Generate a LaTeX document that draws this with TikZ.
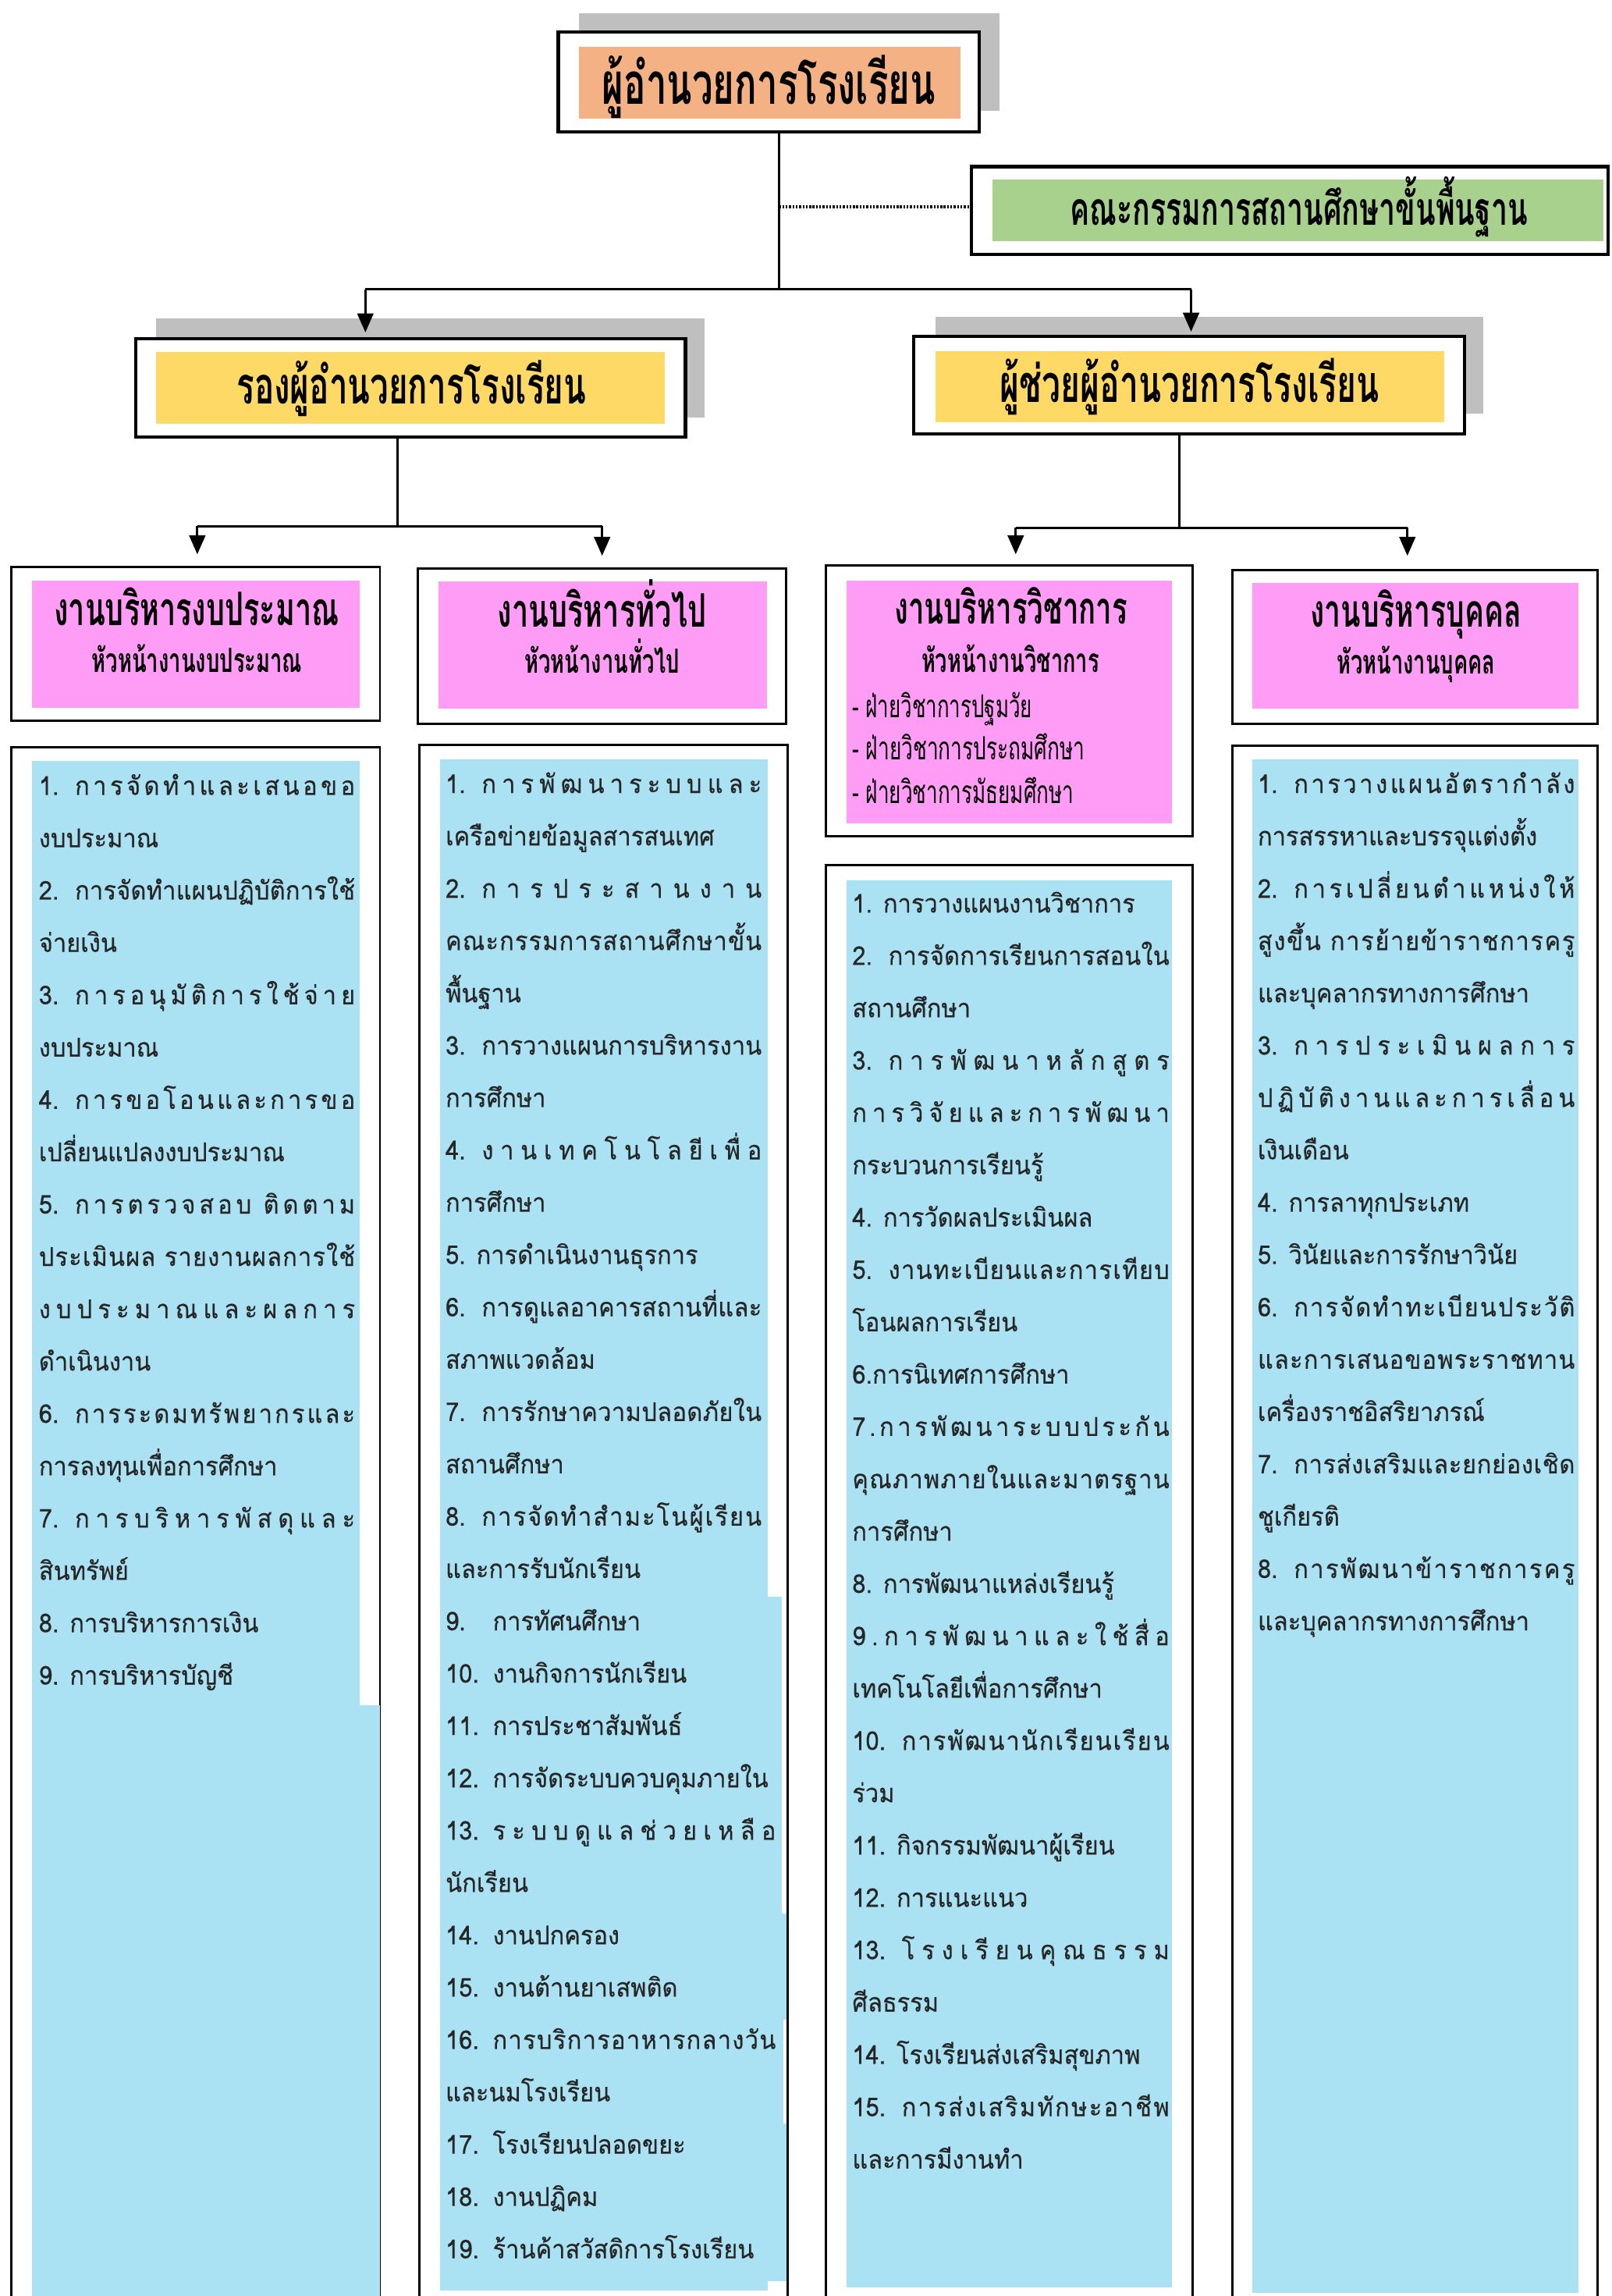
\documentclass[tikz,border=0pt]{standalone}
\usepackage{fontspec}
\usepackage{graphicx}
\usetikzlibrary{arrows.meta}
\newfontfamily\thai[Script=Thai,FakeStretch=0.93,FakeBold=0.35]{Loma}
\newfontfamily\thaic[Script=Thai,FakeStretch=0.64]{Loma}
\definecolor{orangef}{HTML}{F4B183}
\definecolor{yellowf}{HTML}{FFD966}
\definecolor{greenf}{HTML}{A9D18E}
\definecolor{pinkf}{HTML}{FF9CF6}
\definecolor{bluef}{HTML}{AAE1F3}
\definecolor{shadowg}{HTML}{BFBFBF}
\newcommand\hd[2]{\resizebox{#1pt}{!}{\thaic\bfseries #2}}
\newcommand\hr[2]{\resizebox{#1pt}{!}{\thaic #2}}
\newdimen\jw
\newcommand\J[1]{\setbox0=\hbox{#1}\setbox2=\hbox{\addfontfeature{LetterSpace=10}#1}%
  \pgfmathsetmacro\lsv{10*(\the\jw-\the\wd0)/(\the\wd2-\the\wd0)}%
  \edef\tmpls{\noexpand\addfontfeature{LetterSpace=\lsv}}\hbox{\tmpls #1}}
\newcommand\JN[2]{\setbox4=\hbox{#1\kern11pt}\dimen4=\jw \advance\dimen4 by -\wd4
  \hbox{\box4{\jw=\dimen4 \J{#2}}}}
\newcommand\N[1]{\makebox[32.3pt][l]{#1}}
\tikzset{
  obox/.style={draw, line width=2.2pt, fill=white, inner sep=0pt},
  pbox/.style={draw, line width=1.6pt, fill=white, inner sep=0pt},
  fbox/.style={inner sep=0pt},
  conn/.style={line width=1.6pt},
  arr/.style={line width=1.6pt, -{Triangle[length=13pt,width=11pt]}},
  ltxt/.style={anchor=base west, inner sep=0pt, font=\thai\fontsize{17.7}{20}\selectfont, text=black!85},
  htxt/.style={anchor=base, inner sep=0pt},
}
\begin{document}
\begin{tikzpicture}[x=1pt,y=-1pt]
\useasboundingbox (0,0) rectangle (1103,1570.7);
\clip (0,0) rectangle (1103,1570.7);
% shadows
\fill[shadowg] (396,9) rectangle (684,76);
\fill[shadowg] (107,218) rectangle (482,285.6);
\fill[shadowg] (640,217) rectangle (1015,283);
% outer boxes
\node[obox, minimum width=288pt, minimum height=68pt] (dir) at (526,56) {};
\node[obox, minimum width=436pt, minimum height=60pt] (board) at (882.5,144) {};
\node[obox, minimum width=376pt, minimum height=67.5pt] (dep) at (281,265.25) {};
\node[obox, minimum width=377pt, minimum height=67pt] (asst) at (813.5,263.5) {};
\node[pbox, minimum width=252pt, minimum height=105pt] (b1) at (134,440.5) {};
\node[pbox, minimum width=252pt, minimum height=106pt] (b2) at (412,442) {};
\node[pbox, minimum width=251pt, minimum height=185pt] (b3) at (690.5,479.5) {};
\node[pbox, minimum width=250pt, minimum height=105pt] (b4) at (968,442.5) {};
\node[pbox, minimum width=252pt, minimum height=1089pt] (l1) at (134,1055.5) {};
\node[pbox, minimum width=252pt, minimum height=1090.5pt] (l2) at (413,1054.75) {};
\node[pbox, minimum width=251pt, minimum height=1008pt] (l3) at (690.5,1096) {};
\node[pbox, minimum width=250pt, minimum height=1090pt] (l4) at (968,1055) {};
% colour fills
\node[fbox, fill=orangef, minimum width=261pt, minimum height=49pt] (dirf) at (526.5,56.5) {};
\node[fbox, fill=greenf, minimum width=418pt, minimum height=42pt] (boardf) at (888,144) {};
\node[fbox, fill=yellowf, minimum width=348pt, minimum height=49pt] (depf) at (281,265.5) {};
\node[fbox, fill=yellowf, minimum width=348pt, minimum height=49pt] (asstf) at (814,264.5) {};
\node[fbox, fill=pinkf, minimum width=224pt, minimum height=87pt] (b1f) at (134,440.5) {};
\node[fbox, fill=pinkf, minimum width=225pt, minimum height=87pt] (b2f) at (412.5,441.5) {};
\node[fbox, fill=pinkf, minimum width=223pt, minimum height=166pt] (b3f) at (690.5,480) {};
\node[fbox, fill=pinkf, minimum width=223pt, minimum height=86pt] (b4f) at (968.5,442) {};
% list fills
\fill[bluef] (22,520.6) rectangle (246,1580);
\fill[bluef] (245,1166.5) rectangle (260,1580);
\fill[bluef] (301,519.5) rectangle (525.5,1567);
\fill[bluef] (525,1092.4) rectangle (535,1309);
\fill[bluef] (525,1309) rectangle (538,1381.6);
\fill[bluef] (525,1381.6) rectangle (536,1452.6);
\fill[bluef] (525,1452.6) rectangle (538,1560.6);
\fill[bluef] (579,602) rectangle (802,1565);
\fill[bluef] (857,519.6) rectangle (1080,1568.5);
% headings
\node[htxt] (t-dir) at (526,71.2) {\hd{228}{ผู้อำนวยการโรงเรียน}};
\node[htxt] (t-board) at (888.8,154) {\hd{313}{คณะกรรมการสถานศึกษาขั้นพื้นฐาน}};
\node[htxt] (t-dep) at (281.5,276.5) {\hd{239}{รองผู้อำนวยการโรงเรียน}};
\node[htxt] (t-asst) at (814,275.2) {\hd{259.5}{ผู้ช่วยผู้อำนวยการโรงเรียน}};
\node[htxt] (t-b1) at (134.5,427.7) {\hd{195}{งานบริหารงบประมาณ}};
\node[htxt] (s-b1) at (134.8,460) {\hd{144}{หัวหน้างานงบประมาณ}};
\node[htxt] (t-b2) at (412,428.8) {\hd{143}{งานบริหารทั่วไป}};
\node[htxt] (s-b2) at (412,460.5) {\hd{106}{หัวหน้างานทั่วไป}};
\node[htxt] (t-b3) at (691.7,427) {\hd{159.5}{งานบริหารวิชาการ}};
\node[htxt] (s-b3) at (691.3,460) {\hd{121.5}{หัวหน้างานวิชาการ}};
\node[htxt, anchor=base west] (d1-b3) at (583,490.7) {\hr{123}{- ฝ่ายวิชาการปฐมวัย}};
\node[htxt, anchor=base west] (d2-b3) at (583,520) {\hr{159}{- ฝ่ายวิชาการประถมศึกษา}};
\node[htxt, anchor=base west] (d3-b3) at (583,549.7) {\hr{151.5}{- ฝ่ายวิชาการมัธยมศึกษา}};
\node[htxt] (t-b4) at (968.8,429) {\hd{144.6}{งานบริหารบุคคล}};
\node[htxt] (s-b4) at (968.8,461) {\hd{108.5}{หัวหน้างานบุคคล}};
% list texts
\jw=216.4pt
\foreach \t [count=\i] in {
 {\JN{1.}{การจัดทำและเสนอขอ}}, {งบประมาณ},
 {\JN{2.}{การจัดทำแผนปฏิบัติการใช้}}, {จ่ายเงิน},
 {\JN{3.}{การอนุมัติการใช้จ่าย}}, {งบประมาณ},
 {\JN{4.}{การขอโอนและการขอ}}, {เปลี่ยนแปลงงบประมาณ},
 {\JN{5.}{การตรวจสอบ ติดตาม}}, {\J{ประเมินผล รายงานผลการใช้}}, {\J{งบประมาณและผลการ}}, {ดำเนินงาน},
 {\JN{6.}{การระดมทรัพยากรและ}}, {การลงทุนเพื่อการศึกษา},
 {\JN{7.}{การบริหารพัสดุและ}}, {สินทรัพย์},
 {8. การบริหารการเงิน}, {9. การบริหารบัญชี}}
 {\node[ltxt] (x1-\i) at (26.4,{543.8+35.8*(\i-1)}) {\t};}
\jw=216.3pt
\foreach \t [count=\i] in {
 {\JN{1.}{การพัฒนาระบบและ}}, {เครือข่ายข้อมูลสารสนเทศ},
 {\JN{2.}{การประสานงาน}}, {\J{คณะกรรมการสถานศึกษาขั้น}}, {พื้นฐาน},
 {\JN{3.}{การวางแผนการบริหารงาน}}, {การศึกษา},
 {\JN{4.}{งานเทคโนโลยีเพื่อ}}, {การศึกษา},
 {5. การดำเนินงานธุรการ},
 {\JN{6.}{การดูแลอาคารสถานที่และ}}, {สภาพแวดล้อม},
 {\JN{7.}{การรักษาความปลอดภัยใน}}, {สถานศึกษา},
 {\JN{8.}{การจัดทำสำมะโนผู้เรียน}}, {และการรับนักเรียน},
 {\N{9.}การทัศนศึกษา}, {\N{10.}งานกิจการนักเรียน}, {\N{11.}การประชาสัมพันธ์},
 {\N{12.}การจัดระบบควบคุมภายใน},
 {\N{13.}\jw=193.7pt\J{ระบบดูแลช่วยเหลือ}}, {นักเรียน},
 {\N{14.}งานปกครอง}, {\N{15.}งานต้านยาเสพติด},
 {\N{16.}\jw=193.7pt\J{การบริการอาหารกลางวัน}}, {และนมโรงเรียน},
 {\N{17.}โรงเรียนปลอดขยะ}, {\N{18.}งานปฏิคม}, {\N{19.}ร้านค้าสวัสดิการโรงเรียน}}
 {\node[ltxt] (x2-\i) at (304.7,{542.5+35.8*(\i-1)}) {\t};}
\jw=217pt
\foreach \t [count=\i] in {
 {1. การวางแผนงานวิชาการ},
 {\JN{2.}{การจัดการเรียนการสอนใน}}, {สถานศึกษา},
 {\JN{3.}{การพัฒนาหลักสูตร}}, {\J{การวิจัยและการพัฒนา}}, {กระบวนการเรียนรู้},
 {4. การวัดผลประเมินผล},
 {\JN{5.}{งานทะเบียนและการเทียบ}}, {โอนผลการเรียน},
 {6.การนิเทศการศึกษา},
 {\J{7.การพัฒนาระบบประกัน}}, {\J{คุณภาพภายในและมาตรฐาน}}, {การศึกษา},
 {8. การพัฒนาแหล่งเรียนรู้},
 {\J{9.การพัฒนาและใช้สื่อ}}, {เทคโนโลยีเพื่อการศึกษา},
 {\JN{10.}{การพัฒนานักเรียนเรียน}}, {ร่วม},
 {11. กิจกรรมพัฒนาผู้เรียน}, {12. การแนะแนว},
 {\JN{13.}{โรงเรียนคุณธรรม}}, {ศีลธรรม},
 {14. โรงเรียนส่งเสริมสุขภาพ},
 {\JN{15.}{การส่งเสริมทักษะอาชีพ}}, {และการมีงานทำ}}
 {\node[ltxt] (x3-\i) at (583,{624.3+35.8*(\i-1)}) {\t};}
\jw=217pt
\foreach \t [count=\i] in {
 {\JN{1.}{การวางแผนอัตรากำลัง}}, {การสรรหาและบรรจุแต่งตั้ง},
 {\JN{2.}{การเปลี่ยนตำแหน่งให้}}, {\J{สูงขึ้น การย้ายข้าราชการครู}}, {และบุคลากรทางการศึกษา},
 {\JN{3.}{การประเมินผลการ}}, {\J{ปฏิบัติงานและการเลื่อน}}, {เงินเดือน},
 {4. การลาทุกประเภท}, {5. วินัยและการรักษาวินัย},
 {\JN{6.}{การจัดทำทะเบียนประวัติ}}, {\J{และการเสนอขอพระราชทาน}}, {เครื่องราชอิสริยาภรณ์},
 {\JN{7.}{การส่งเสริมและยกย่องเชิด}}, {ชูเกียรติ},
 {\JN{8.}{การพัฒนาข้าราชการครู}}, {และบุคลากรทางการศึกษา}}
 {\node[ltxt] (x4-\i) at (860.4,{542.5+35.8*(\i-1)}) {\t};}
% connectors
\coordinate (j1) at (533,198);
\coordinate (ja) at (250,198);
\coordinate (jb) at (815,198);
\coordinate (jd) at (533,141.5);
\draw[conn] (dir.south -| j1) -- (j1);
\draw[conn] (ja) -- (jb);
\draw[line width=2pt, dash pattern=on 1.3pt off 1pt] (jd) -- (jd -| board.west);
\draw[arr, shorten >=3pt] (ja) -- (ja |- dep.north);
\draw[arr, shorten >=2pt] (jb) -- (jb |- asst.north);
\coordinate (jc) at (272,360);
\coordinate (ka) at (135,360);
\coordinate (kb) at (412,360);
\draw[conn] (dep.south -| jc) -- (jc);
\draw[conn] (ka) -- (kb);
\draw[arr, shorten >=8pt] (ka) -- (ka |- b1.north);
\draw[arr, shorten >=8pt] (kb) -- (kb |- b2.north);
\coordinate (je) at (807,361);
\coordinate (kc) at (695,361);
\coordinate (kd) at (963,361);
\draw[conn] (asst.south -| je) -- (je);
\draw[conn] (kc) -- (kd);
\draw[arr, shorten >=7pt] (kc) -- (kc |- b3.north);
\draw[arr, shorten >=9pt] (kd) -- (kd |- b4.north);
\end{tikzpicture}
\end{document}
